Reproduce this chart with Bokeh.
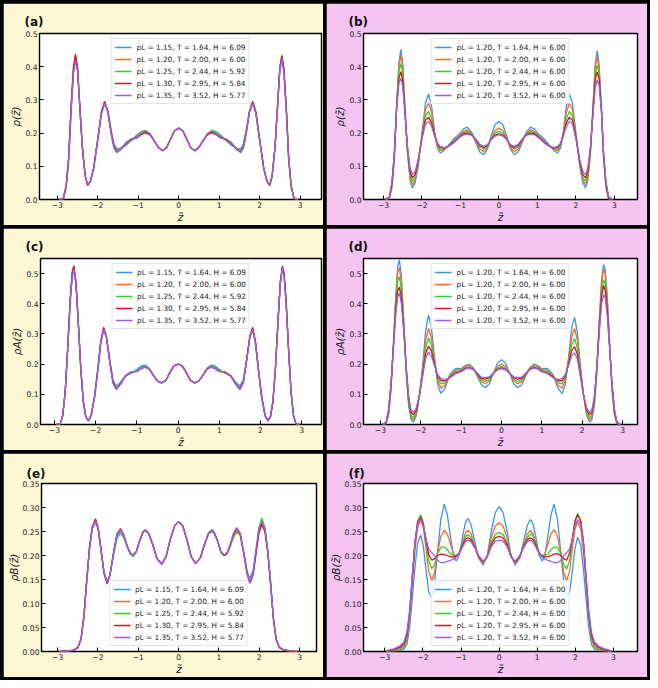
from bokeh.plotting import figure
from bokeh.models import Range1d, FixedTicker, PrintfTickFormatter
from bokeh.layouts import row, column
from bokeh.embed import file_html
from bokeh.resources import INLINE

# ---------------- data ----------------
z_ab = [-2.95, -2.85, -2.78, -2.72, -2.66, -2.6, -2.55, -2.5, -2.44, -2.38, -2.31, -2.25, -2.18, -2.1, -2.0, -1.91, -1.83, -1.75, -1.67, -1.6, -1.53, -1.43, -1.3, -1.17, -1.03, -0.92, -0.82, -0.71, -0.6, -0.5, -0.4, -0.3, -0.2, -0.1, 0.0, 0.1, 0.2, 0.3, 0.4, 0.5, 0.6, 0.71, 0.82, 0.92, 1.03, 1.17, 1.3, 1.43, 1.53, 1.6, 1.67, 1.75, 1.83, 1.91, 2.0, 2.1, 2.18, 2.25, 2.31, 2.38, 2.44, 2.5, 2.55, 2.6, 2.66, 2.72, 2.78, 2.85, 2.95]

a1 = [0.0, 0.002, 0.035, 0.11, 0.26, 0.38, 0.42, 0.39, 0.27, 0.155, 0.07, 0.042, 0.054, 0.094, 0.178, 0.258, 0.29, 0.266, 0.21, 0.168, 0.153, 0.155, 0.163, 0.178, 0.195, 0.205, 0.208, 0.198, 0.177, 0.157, 0.147, 0.156, 0.182, 0.207,
      0.215,
      0.207, 0.182, 0.156, 0.147, 0.157, 0.177, 0.198, 0.208, 0.205, 0.195, 0.178, 0.163, 0.155, 0.153, 0.168, 0.21, 0.266, 0.29, 0.258, 0.178, 0.094, 0.054, 0.042, 0.07, 0.155, 0.27, 0.385, 0.425, 0.385, 0.265, 0.115, 0.036, 0.002, 0.0]
a2 = [0.0, 0.003, 0.04, 0.12, 0.27, 0.39, 0.43, 0.395, 0.27, 0.155, 0.07, 0.042, 0.055, 0.095, 0.18, 0.26, 0.293, 0.266, 0.206, 0.163, 0.148, 0.154, 0.168, 0.178, 0.19, 0.201, 0.206, 0.197, 0.176, 0.157, 0.147, 0.156, 0.182, 0.207,
      0.215,
      0.207, 0.182, 0.156, 0.147, 0.157, 0.176, 0.197, 0.206, 0.201, 0.19, 0.178, 0.168, 0.154, 0.148, 0.163, 0.206, 0.266, 0.293, 0.26, 0.18, 0.095, 0.055, 0.042, 0.07, 0.155, 0.27, 0.395, 0.43, 0.39, 0.27, 0.12, 0.04, 0.003, 0.0]
a3 = [0.0, 0.004, 0.042, 0.125, 0.275, 0.395, 0.432, 0.397, 0.272, 0.156, 0.07, 0.043, 0.056, 0.096, 0.182, 0.262, 0.294, 0.266, 0.205, 0.162, 0.147, 0.155, 0.168, 0.179, 0.189, 0.2, 0.206, 0.197, 0.176, 0.157, 0.147, 0.156, 0.182, 0.207,
      0.215,
      0.207, 0.182, 0.156, 0.147, 0.157, 0.176, 0.197, 0.207, 0.201, 0.19, 0.179, 0.168, 0.155, 0.147, 0.162, 0.205, 0.266, 0.294, 0.262, 0.182, 0.096, 0.056, 0.043, 0.071, 0.157, 0.278, 0.4, 0.436, 0.398, 0.278, 0.125, 0.042, 0.004, 0.0]
a4 = [0.0, 0.004, 0.043, 0.127, 0.28, 0.4, 0.438, 0.4, 0.275, 0.157, 0.071, 0.043, 0.056, 0.097, 0.183, 0.263, 0.295, 0.264, 0.2, 0.158, 0.143, 0.15, 0.17, 0.182, 0.186, 0.197, 0.203, 0.196, 0.176, 0.157, 0.147, 0.156, 0.182, 0.207,
      0.215,
      0.207, 0.182, 0.156, 0.147, 0.157, 0.176, 0.196, 0.203, 0.197, 0.186, 0.182, 0.17, 0.15, 0.143, 0.158, 0.2, 0.264, 0.295, 0.263, 0.183, 0.097, 0.056, 0.043, 0.071, 0.157, 0.276, 0.396, 0.432, 0.396, 0.276, 0.125, 0.043, 0.004, 0.0]
a5 = [0.0, 0.004, 0.04, 0.12, 0.265, 0.382, 0.42, 0.388, 0.27, 0.157, 0.072, 0.044, 0.056, 0.096, 0.18, 0.258, 0.29, 0.263, 0.198, 0.155, 0.141, 0.152, 0.172, 0.183, 0.185, 0.195, 0.2, 0.194, 0.176, 0.157, 0.147, 0.156, 0.182, 0.207,
      0.215,
      0.207, 0.182, 0.156, 0.147, 0.157, 0.176, 0.194, 0.2, 0.195, 0.185, 0.183, 0.172, 0.152, 0.141, 0.155, 0.198, 0.263, 0.29, 0.258, 0.18, 0.096, 0.056, 0.044, 0.072, 0.157, 0.27, 0.39, 0.425, 0.385, 0.268, 0.12, 0.04, 0.004, 0.0]

b1 = [0.0, 0.002, 0.035, 0.12, 0.28, 0.41, 0.452, 0.41, 0.27, 0.145, 0.058, 0.035, 0.05, 0.1, 0.2, 0.29, 0.318, 0.28, 0.2, 0.155, 0.14, 0.147, 0.165, 0.183, 0.197, 0.213, 0.218, 0.203, 0.17, 0.143, 0.135, 0.152, 0.192, 0.226,
      0.235,
      0.226, 0.192, 0.152, 0.135, 0.143, 0.17, 0.203, 0.218, 0.213, 0.197, 0.183, 0.165, 0.147, 0.14, 0.155, 0.2, 0.28, 0.318, 0.29, 0.2, 0.1, 0.05, 0.035, 0.058, 0.145, 0.27, 0.405, 0.448, 0.41, 0.28, 0.12, 0.035, 0.002, 0.0]
b2 = [0.0, 0.003, 0.04, 0.125, 0.28, 0.4, 0.435, 0.4, 0.27, 0.15, 0.065, 0.045, 0.058, 0.105, 0.195, 0.272, 0.29, 0.262, 0.2, 0.16, 0.147, 0.15, 0.163, 0.178, 0.192, 0.205, 0.21, 0.199, 0.175, 0.152, 0.145, 0.156, 0.185, 0.208,
      0.215,
      0.208, 0.185, 0.156, 0.145, 0.152, 0.175, 0.199, 0.21, 0.205, 0.192, 0.178, 0.163, 0.15, 0.147, 0.16, 0.2, 0.262, 0.29, 0.272, 0.195, 0.105, 0.058, 0.045, 0.065, 0.15, 0.27, 0.395, 0.43, 0.398, 0.28, 0.125, 0.04, 0.003, 0.0]
b3 = [0.0, 0.004, 0.045, 0.13, 0.28, 0.385, 0.41, 0.38, 0.265, 0.155, 0.075, 0.055, 0.066, 0.11, 0.19, 0.253, 0.265, 0.243, 0.195, 0.165, 0.152, 0.153, 0.162, 0.175, 0.19, 0.201, 0.205, 0.197, 0.178, 0.158, 0.152, 0.16, 0.182, 0.2,
      0.205,
      0.2, 0.182, 0.16, 0.152, 0.158, 0.178, 0.197, 0.205, 0.201, 0.19, 0.175, 0.162, 0.153, 0.152, 0.165, 0.195, 0.243, 0.265, 0.253, 0.19, 0.11, 0.066, 0.055, 0.075, 0.155, 0.265, 0.378, 0.405, 0.382, 0.28, 0.13, 0.045, 0.004, 0.0]
b4 = [0.001, 0.006, 0.05, 0.135, 0.275, 0.365, 0.385, 0.358, 0.258, 0.158, 0.085, 0.065, 0.075, 0.115, 0.186, 0.239, 0.248, 0.23, 0.194, 0.168, 0.157, 0.155, 0.161, 0.173, 0.188, 0.198, 0.2, 0.195, 0.18, 0.163, 0.157, 0.163, 0.181, 0.194,
      0.198,
      0.194, 0.181, 0.163, 0.157, 0.163, 0.18, 0.195, 0.2, 0.198, 0.188, 0.173, 0.161, 0.155, 0.157, 0.168, 0.194, 0.23, 0.248, 0.239, 0.186, 0.115, 0.075, 0.065, 0.085, 0.158, 0.258, 0.358, 0.385, 0.365, 0.275, 0.135, 0.05, 0.006, 0.001]
b5 = [0.001, 0.008, 0.055, 0.14, 0.27, 0.35, 0.365, 0.34, 0.252, 0.162, 0.095, 0.075, 0.084, 0.12, 0.183, 0.228, 0.235, 0.22, 0.19, 0.17, 0.16, 0.156, 0.16, 0.171, 0.186, 0.195, 0.197, 0.193, 0.182, 0.166, 0.16, 0.165, 0.18, 0.191,
      0.195,
      0.191, 0.18, 0.165, 0.16, 0.166, 0.182, 0.193, 0.197, 0.195, 0.186, 0.171, 0.16, 0.156, 0.16, 0.17, 0.19, 0.22, 0.235, 0.228, 0.183, 0.12, 0.084, 0.075, 0.095, 0.162, 0.25, 0.335, 0.36, 0.345, 0.27, 0.14, 0.055, 0.008, 0.001]

z_cd = [-2.95, -2.86, -2.8, -2.74, -2.68, -2.62, -2.57, -2.53, -2.48, -2.42, -2.36, -2.3, -2.24, -2.18, -2.11, -2.03, -1.95, -1.88, -1.81, -1.74, -1.66, -1.58, -1.5, -1.4, -1.28, -1.14, -1.0, -0.9, -0.8, -0.7, -0.6, -0.5, -0.4, -0.3, -0.2, -0.1, 0.0, 0.1, 0.2, 0.3, 0.4, 0.5, 0.6, 0.7, 0.8, 0.9, 1.0, 1.14, 1.28, 1.4, 1.5, 1.58, 1.66, 1.74, 1.81, 1.88, 1.95, 2.03, 2.11, 2.18, 2.24, 2.3, 2.36, 2.42, 2.48, 2.53, 2.57, 2.62, 2.68, 2.74, 2.8, 2.86, 2.95]

c1 = [0.0, 0.002, 0.028, 0.105, 0.245, 0.4, 0.49, 0.51, 0.465, 0.33, 0.18, 0.075, 0.026, 0.013, 0.03, 0.088, 0.175, 0.265, 0.312, 0.29, 0.215, 0.148, 0.128, 0.14, 0.16, 0.17, 0.183, 0.194, 0.197, 0.186, 0.163, 0.144, 0.138, 0.146, 0.172, 0.194,
      0.2,
      0.194, 0.172, 0.146, 0.138, 0.144, 0.163, 0.186, 0.197, 0.194, 0.183, 0.17, 0.16, 0.14, 0.128, 0.148, 0.215, 0.29, 0.312, 0.265, 0.175, 0.088, 0.03, 0.013, 0.026, 0.075, 0.18, 0.33, 0.46, 0.515, 0.49, 0.4, 0.245, 0.105, 0.028, 0.002, 0.0]
c2 = [0.0, 0.002, 0.03, 0.11, 0.252, 0.412, 0.503, 0.525, 0.472, 0.332, 0.18, 0.075, 0.025, 0.012, 0.03, 0.09, 0.18, 0.27, 0.318, 0.29, 0.21, 0.14, 0.121, 0.136, 0.16, 0.173, 0.178, 0.19, 0.194, 0.185, 0.163, 0.144, 0.138, 0.146, 0.172, 0.194,
      0.2,
      0.194, 0.172, 0.146, 0.138, 0.144, 0.163, 0.185, 0.194, 0.19, 0.178, 0.173, 0.16, 0.136, 0.121, 0.14, 0.21, 0.29, 0.318, 0.27, 0.18, 0.09, 0.03, 0.012, 0.025, 0.075, 0.18, 0.332, 0.47, 0.52, 0.5, 0.41, 0.25, 0.11, 0.03, 0.002, 0.0]
c3 = [0.0, 0.002, 0.03, 0.11, 0.25, 0.41, 0.5, 0.52, 0.47, 0.33, 0.18, 0.075, 0.025, 0.012, 0.03, 0.09, 0.18, 0.27, 0.317, 0.29, 0.21, 0.14, 0.12, 0.135, 0.16, 0.173, 0.178, 0.19, 0.193, 0.185, 0.163, 0.144, 0.138, 0.146, 0.172, 0.194,
      0.2,
      0.194, 0.172, 0.146, 0.138, 0.144, 0.163, 0.185, 0.193, 0.19, 0.178, 0.173, 0.16, 0.135, 0.12, 0.14, 0.21, 0.29, 0.317, 0.27, 0.18, 0.09, 0.03, 0.012, 0.025, 0.075, 0.18, 0.33, 0.47, 0.52, 0.5, 0.41, 0.25, 0.11, 0.03, 0.002, 0.0]
c4 = [0.0, 0.002, 0.031, 0.112, 0.255, 0.415, 0.505, 0.526, 0.472, 0.332, 0.18, 0.075, 0.025, 0.012, 0.03, 0.092, 0.183, 0.273, 0.322, 0.292, 0.21, 0.138, 0.118, 0.133, 0.161, 0.174, 0.175, 0.185, 0.19, 0.183, 0.163, 0.144, 0.138, 0.146, 0.172, 0.194,
      0.2,
      0.194, 0.172, 0.146, 0.138, 0.144, 0.163, 0.183, 0.19, 0.185, 0.175, 0.174, 0.161, 0.133, 0.118, 0.138, 0.21, 0.292, 0.322, 0.273, 0.183, 0.092, 0.03, 0.012, 0.025, 0.075, 0.18, 0.332, 0.472, 0.525, 0.505, 0.415, 0.255, 0.112, 0.031, 0.002, 0.0]
c5 = [0.0, 0.002, 0.03, 0.108, 0.25, 0.405, 0.495, 0.515, 0.468, 0.332, 0.182, 0.076, 0.026, 0.013, 0.031, 0.09, 0.18, 0.268, 0.315, 0.288, 0.208, 0.136, 0.115, 0.132, 0.162, 0.175, 0.176, 0.186, 0.19, 0.183, 0.163, 0.144, 0.138, 0.146, 0.172, 0.194,
      0.2,
      0.194, 0.172, 0.146, 0.138, 0.144, 0.163, 0.183, 0.19, 0.186, 0.176, 0.175, 0.162, 0.132, 0.115, 0.136, 0.208, 0.288, 0.315, 0.268, 0.18, 0.09, 0.031, 0.013, 0.026, 0.076, 0.182, 0.332, 0.47, 0.52, 0.498, 0.405, 0.25, 0.108, 0.03, 0.002, 0.0]

d1 = [0.0, 0.002, 0.03, 0.11, 0.26, 0.43, 0.525, 0.545, 0.49, 0.34, 0.17, 0.06, 0.016, 0.008, 0.03, 0.1, 0.2, 0.31, 0.363, 0.325, 0.22, 0.13, 0.103, 0.12, 0.165, 0.186, 0.185, 0.195, 0.2, 0.188, 0.16, 0.132, 0.122, 0.135, 0.17, 0.203,
      0.215,
      0.203, 0.17, 0.135, 0.122, 0.132, 0.16, 0.188, 0.2, 0.195, 0.185, 0.186, 0.165, 0.12, 0.103, 0.13, 0.22, 0.322, 0.355, 0.305, 0.2, 0.1, 0.03, 0.008, 0.016, 0.06, 0.17, 0.34, 0.48, 0.53, 0.515, 0.425, 0.26, 0.11, 0.03, 0.002, 0.0]
d2 = [0.0, 0.003, 0.035, 0.12, 0.265, 0.42, 0.505, 0.52, 0.47, 0.33, 0.175, 0.068, 0.023, 0.015, 0.035, 0.1, 0.19, 0.28, 0.318, 0.29, 0.215, 0.145, 0.12, 0.13, 0.162, 0.18, 0.182, 0.191, 0.195, 0.186, 0.163, 0.142, 0.135, 0.144, 0.172, 0.193,
      0.2,
      0.193, 0.172, 0.144, 0.135, 0.142, 0.163, 0.186, 0.195, 0.191, 0.182, 0.18, 0.162, 0.13, 0.12, 0.145, 0.215, 0.29, 0.318, 0.28, 0.19, 0.1, 0.035, 0.015, 0.023, 0.068, 0.175, 0.33, 0.465, 0.515, 0.5, 0.415, 0.265, 0.12, 0.035, 0.003, 0.0]
d3 = [0.0, 0.004, 0.04, 0.125, 0.26, 0.4, 0.475, 0.49, 0.445, 0.32, 0.18, 0.076, 0.03, 0.022, 0.04, 0.1, 0.18, 0.255, 0.287, 0.265, 0.205, 0.153, 0.135, 0.138, 0.158, 0.175, 0.179, 0.187, 0.19, 0.184, 0.166, 0.148, 0.143, 0.15, 0.17, 0.187,
      0.193,
      0.187, 0.17, 0.15, 0.143, 0.148, 0.166, 0.184, 0.19, 0.187, 0.179, 0.175, 0.158, 0.138, 0.135, 0.153, 0.205, 0.265, 0.285, 0.253, 0.18, 0.1, 0.04, 0.022, 0.03, 0.076, 0.18, 0.32, 0.44, 0.48, 0.465, 0.395, 0.26, 0.125, 0.04, 0.004, 0.0]
d4 = [0.001, 0.006, 0.045, 0.13, 0.255, 0.38, 0.445, 0.455, 0.42, 0.31, 0.185, 0.085, 0.04, 0.032, 0.048, 0.1, 0.17, 0.235, 0.26, 0.245, 0.2, 0.16, 0.145, 0.145, 0.157, 0.17, 0.176, 0.185, 0.188, 0.183, 0.168, 0.153, 0.15, 0.155, 0.17, 0.183,
      0.188,
      0.183, 0.17, 0.155, 0.15, 0.153, 0.168, 0.183, 0.188, 0.185, 0.176, 0.17, 0.157, 0.145, 0.145, 0.16, 0.2, 0.245, 0.258, 0.233, 0.17, 0.1, 0.048, 0.032, 0.04, 0.085, 0.185, 0.31, 0.425, 0.46, 0.445, 0.38, 0.255, 0.13, 0.045, 0.006, 0.001]
d5 = [0.001, 0.008, 0.05, 0.135, 0.25, 0.365, 0.425, 0.435, 0.4, 0.3, 0.187, 0.092, 0.048, 0.04, 0.055, 0.1, 0.163, 0.22, 0.24, 0.228, 0.195, 0.165, 0.152, 0.149, 0.155, 0.168, 0.175, 0.184, 0.187, 0.182, 0.17, 0.157, 0.155, 0.158, 0.17, 0.181,
      0.185,
      0.181, 0.17, 0.158, 0.155, 0.157, 0.17, 0.182, 0.187, 0.184, 0.175, 0.168, 0.155, 0.149, 0.152, 0.165, 0.195, 0.228, 0.238, 0.218, 0.163, 0.1, 0.055, 0.04, 0.048, 0.092, 0.187, 0.3, 0.4, 0.43, 0.42, 0.36, 0.25, 0.135, 0.05, 0.008, 0.001]

z_ef = [-2.95, -2.75, -2.6, -2.5, -2.42, -2.35, -2.28, -2.21, -2.14, -2.06, -1.99, -1.92, -1.85, -1.77, -1.7, -1.62, -1.53, -1.44, -1.36, -1.27, -1.2, -1.13, -1.05, -0.96, -0.88, -0.82, -0.74, -0.64, -0.54, -0.42, -0.31, -0.21, -0.1, 0.0, 0.1, 0.21, 0.31, 0.42, 0.54, 0.64, 0.74, 0.82, 0.88, 0.96, 1.05, 1.13, 1.2, 1.27, 1.36, 1.44, 1.53, 1.62, 1.7, 1.77, 1.85, 1.92, 1.99, 2.06, 2.14, 2.21, 2.28, 2.35, 2.42, 2.5, 2.6, 2.75, 2.95]

e1 = [0.0, 0.001, 0.003, 0.008, 0.025, 0.07, 0.143, 0.212, 0.255, 0.27, 0.253, 0.21, 0.167, 0.145, 0.162, 0.198, 0.235, 0.247, 0.237, 0.217, 0.204, 0.2, 0.208, 0.233, 0.25, 0.254, 0.247, 0.224, 0.195, 0.182, 0.198, 0.232, 0.262,
      0.27,
      0.262, 0.232, 0.198, 0.183, 0.195, 0.224, 0.247, 0.254, 0.25, 0.233, 0.208, 0.2, 0.204, 0.217, 0.24, 0.25, 0.243, 0.205, 0.168, 0.152, 0.17, 0.212, 0.252, 0.27, 0.255, 0.21, 0.143, 0.07, 0.025, 0.009, 0.004, 0.002, 0.0]
e2 = [0.0, 0.001, 0.003, 0.008, 0.026, 0.072, 0.148, 0.218, 0.26, 0.277, 0.257, 0.21, 0.164, 0.142, 0.16, 0.202, 0.243, 0.255, 0.242, 0.219, 0.205, 0.2, 0.208, 0.233, 0.25, 0.254, 0.246, 0.223, 0.195, 0.182, 0.198, 0.232, 0.262,
      0.27,
      0.262, 0.232, 0.198, 0.183, 0.195, 0.223, 0.245, 0.251, 0.247, 0.232, 0.208, 0.2, 0.204, 0.217, 0.238, 0.248, 0.242, 0.203, 0.163, 0.143, 0.163, 0.207, 0.25, 0.268, 0.253, 0.21, 0.144, 0.07, 0.025, 0.008, 0.003, 0.001, 0.0]
e3 = [0.0, 0.001, 0.003, 0.008, 0.025, 0.07, 0.145, 0.215, 0.257, 0.273, 0.254, 0.21, 0.165, 0.143, 0.16, 0.2, 0.24, 0.252, 0.24, 0.217, 0.203, 0.198, 0.206, 0.231, 0.248, 0.252, 0.245, 0.222, 0.194, 0.181, 0.197, 0.232, 0.262,
      0.271,
      0.262, 0.232, 0.198, 0.184, 0.196, 0.223, 0.245, 0.251, 0.247, 0.232, 0.207, 0.199, 0.203, 0.217, 0.24, 0.252, 0.242, 0.202, 0.162, 0.143, 0.165, 0.212, 0.258, 0.278, 0.26, 0.214, 0.146, 0.071, 0.025, 0.008, 0.003, 0.001, 0.0]
e4 = [0.0, 0.001, 0.003, 0.008, 0.026, 0.072, 0.147, 0.217, 0.259, 0.275, 0.254, 0.208, 0.162, 0.141, 0.16, 0.203, 0.245, 0.256, 0.243, 0.219, 0.205, 0.201, 0.208, 0.232, 0.249, 0.252, 0.245, 0.222, 0.194, 0.182, 0.198, 0.232, 0.262,
      0.27,
      0.262, 0.232, 0.198, 0.183, 0.195, 0.222, 0.245, 0.251, 0.247, 0.231, 0.207, 0.2, 0.205, 0.22, 0.244, 0.256, 0.245, 0.202, 0.161, 0.142, 0.16, 0.203, 0.245, 0.265, 0.25, 0.207, 0.142, 0.069, 0.025, 0.008, 0.003, 0.001, 0.0]
e5 = [0.0, 0.001, 0.003, 0.008, 0.025, 0.07, 0.144, 0.214, 0.256, 0.272, 0.254, 0.21, 0.165, 0.143, 0.16, 0.202, 0.243, 0.254, 0.242, 0.219, 0.205, 0.201, 0.208, 0.232, 0.249, 0.252, 0.245, 0.222, 0.194, 0.182, 0.198, 0.232, 0.262,
      0.27,
      0.262, 0.232, 0.198, 0.183, 0.195, 0.222, 0.245, 0.251, 0.247, 0.232, 0.208, 0.201, 0.206, 0.221, 0.246, 0.258, 0.246, 0.204, 0.163, 0.144, 0.164, 0.21, 0.255, 0.272, 0.256, 0.212, 0.145, 0.07, 0.026, 0.009, 0.004, 0.002, 0.0]

f1 = [0.0, 0.001, 0.002, 0.005, 0.015, 0.05, 0.11, 0.175, 0.225, 0.243, 0.22, 0.17, 0.125, 0.112, 0.14, 0.205, 0.275, 0.307, 0.285, 0.235, 0.2, 0.188, 0.2, 0.24, 0.27, 0.277, 0.265, 0.23, 0.195, 0.18, 0.2, 0.25, 0.29,
      0.302,
      0.29, 0.25, 0.2, 0.18, 0.195, 0.23, 0.263, 0.275, 0.268, 0.24, 0.2, 0.188, 0.2, 0.235, 0.285, 0.307, 0.275, 0.205, 0.14, 0.112, 0.125, 0.168, 0.215, 0.238, 0.222, 0.172, 0.11, 0.05, 0.015, 0.005, 0.002, 0.001, 0.0]
f2 = [0.0, 0.002, 0.004, 0.009, 0.025, 0.07, 0.14, 0.21, 0.258, 0.275, 0.258, 0.215, 0.168, 0.147, 0.163, 0.205, 0.24, 0.253, 0.245, 0.222, 0.204, 0.198, 0.203, 0.228, 0.248, 0.253, 0.246, 0.222, 0.195, 0.183, 0.2, 0.237, 0.262,
      0.268,
      0.262, 0.237, 0.2, 0.183, 0.195, 0.222, 0.245, 0.252, 0.247, 0.228, 0.203, 0.198, 0.204, 0.222, 0.245, 0.254, 0.24, 0.205, 0.163, 0.147, 0.168, 0.215, 0.255, 0.27, 0.255, 0.208, 0.14, 0.07, 0.025, 0.009, 0.004, 0.002, 0.0]
f3 = [0.0, 0.003, 0.006, 0.012, 0.03, 0.075, 0.15, 0.225, 0.27, 0.285, 0.268, 0.23, 0.19, 0.172, 0.18, 0.203, 0.217, 0.218, 0.212, 0.203, 0.2, 0.2, 0.206, 0.225, 0.24, 0.243, 0.238, 0.219, 0.197, 0.186, 0.2, 0.227, 0.244,
      0.248,
      0.244, 0.227, 0.2, 0.186, 0.197, 0.219, 0.238, 0.245, 0.242, 0.226, 0.206, 0.2, 0.2, 0.203, 0.212, 0.218, 0.217, 0.203, 0.18, 0.172, 0.19, 0.232, 0.272, 0.288, 0.272, 0.228, 0.15, 0.075, 0.03, 0.012, 0.006, 0.003, 0.0]
f4 = [0.001, 0.004, 0.009, 0.016, 0.035, 0.08, 0.155, 0.228, 0.27, 0.28, 0.265, 0.232, 0.203, 0.19, 0.193, 0.2, 0.203, 0.202, 0.2, 0.197, 0.197, 0.198, 0.205, 0.222, 0.234, 0.237, 0.233, 0.217, 0.198, 0.187, 0.198, 0.222, 0.237,
      0.24,
      0.237, 0.222, 0.198, 0.186, 0.198, 0.217, 0.233, 0.237, 0.234, 0.222, 0.205, 0.198, 0.197, 0.197, 0.2, 0.203, 0.204, 0.2, 0.193, 0.19, 0.205, 0.236, 0.272, 0.285, 0.272, 0.23, 0.155, 0.08, 0.035, 0.016, 0.009, 0.004, 0.001]
f5 = [0.002, 0.006, 0.012, 0.02, 0.04, 0.085, 0.16, 0.228, 0.265, 0.275, 0.262, 0.235, 0.213, 0.206, 0.2, 0.19, 0.185, 0.185, 0.188, 0.19, 0.193, 0.196, 0.204, 0.218, 0.229, 0.232, 0.229, 0.216, 0.2, 0.188, 0.197, 0.218, 0.23,
      0.232,
      0.23, 0.218, 0.197, 0.188, 0.2, 0.216, 0.229, 0.232, 0.229, 0.218, 0.204, 0.196, 0.193, 0.19, 0.188, 0.185, 0.185, 0.19, 0.2, 0.206, 0.213, 0.235, 0.262, 0.275, 0.265, 0.228, 0.16, 0.085, 0.04, 0.02, 0.012, 0.006, 0.002]

labels_left = ["ρL = 1.15, T = 1.64, H = 6.09",
               "ρL = 1.20, T = 2.00, H = 6.00",
               "ρL = 1.25, T = 2.44, H = 5.92",
               "ρL = 1.30, T = 2.95, H = 5.84",
               "ρL = 1.35, T = 3.52, H = 5.77"]
labels_right = ["ρL = 1.20, T = 1.64, H = 6.00",
                "ρL = 1.20, T = 2.00, H = 6.00",
                "ρL = 1.20, T = 2.44, H = 6.00",
                "ρL = 1.20, T = 2.95, H = 6.00",
                "ρL = 1.20, T = 3.52, H = 6.00"]

x_ticks = [-3, -2, -1, 0, 1, 2, 3]
x_tick_labels = {-3: "−3", -2: "−2", -1: "−1", 0: "0", 1: "1", 2: "2", 3: "3"}
y_ticks_rho = [0.0, 0.1, 0.2, 0.3, 0.4, 0.5]
y_ticks_b = [0.0, 0.05, 0.1, 0.15, 0.2, 0.25, 0.3, 0.35]

# ---------------- style ----------------
COLORS = ["#3a95ee", "#ff6a20", "#2ad42a", "#d81020", "#9d5cf0"]
YELLOW = "#fdf7d4"
PINK = "#f6c4f1"
FONT = "DejaVu Sans"


def panel(tag, z, ys, labels, loc, xr, ytop, yticks, yfmt, ylab, bg,
          w, h, ml, mr, mt, mb, tstand):
    for y in ys:
        assert len(y) == len(z), (tag, len(y), len(z))
    p = figure(width=w, height=h, output_backend="svg", toolbar_location=None,
               x_range=Range1d(xr[0], xr[1]), y_range=Range1d(0, ytop),
               min_border_left=ml, min_border_right=mr,
               min_border_top=mt, min_border_bottom=mb,
               background_fill_color="white", border_fill_color=bg)
    p.title.text = tag
    p.title.align = "left"
    p.title.offset = -15
    p.title.standoff = tstand
    p.title.text_font = FONT
    p.title.text_font_size = "12px"
    p.title.text_font_style = "bold"
    p.title.text_color = "#111111"
    p.grid.visible = False
    p.outline_line_color = "black"
    p.outline_line_width = 1.4
    for ax in (p.xaxis[0], p.yaxis[0]):
        ax.axis_line_color = None
        ax.major_tick_in = 4
        ax.major_tick_out = 0
        ax.major_tick_line_color = "black"
        ax.major_tick_line_width = 1
        ax.minor_tick_line_color = None
        ax.major_label_text_font = FONT
        ax.major_label_text_font_size = "7.6px"
        ax.major_label_text_color = "#1a1a1a"
        ax.major_label_standoff = 2
        ax.axis_label_text_font = FONT
        ax.axis_label_text_font_size = "10.5px"
        ax.axis_label_text_font_style = "italic"
        ax.axis_label_text_color = "#1a1a1a"
        ax.axis_label_standoff = 0
    p.xaxis.ticker = FixedTicker(ticks=x_ticks)
    p.xaxis.major_label_overrides = x_tick_labels
    p.xaxis.axis_label = "z̃"
    p.yaxis.ticker = FixedTicker(ticks=yticks)
    p.yaxis.formatter = PrintfTickFormatter(format=yfmt)
    p.yaxis.axis_label = ylab
    for y, c, lab in zip(ys, COLORS, labels):
        p.line(z, y, line_color=c, line_width=1.3, legend_label=lab)
    lg = p.legend[0]
    lg.location = loc
    lg.label_text_font = FONT
    lg.label_text_font_size = "7.3px"
    lg.label_text_color = "#1a1a1a"
    lg.label_height = 10
    lg.glyph_height = 10
    lg.glyph_width = 17
    lg.label_standoff = 5
    lg.spacing = 2
    lg.padding = 3
    lg.margin = 5
    lg.border_line_color = "#cccccc"
    lg.border_line_width = 1
    lg.background_fill_alpha = 0.85
    return p


pa = panel("(a)", z_ab, [a1, a2, a3, a4, a5], labels_left, "top_center",
           (-3.44, 3.53), 0.5, y_ticks_rho, "%.1f", "ρ(z̃)", YELLOW,
           320, 222, 36, 2, 30, 22, 10)
pb = panel("(b)", z_ab, [b1, b2, b3, b4, b5], labels_right, "top_center",
           (-3.52, 3.60), 0.5, y_ticks_rho, "%.1f", "ρ(z̃)", PINK,
           321, 222, 37, 10, 30, 22, 10)
pc = panel("(c)", z_cd, [c1, c2, c3, c4, c5], labels_left, "top_center",
           (-3.34, 3.48), 0.55, y_ticks_rho, "%.1f", "ρA(z̃)", YELLOW,
           320, 222, 37, 2, 30, 23, 9)
pd = panel("(d)", z_cd, [d1, d2, d3, d4, d5], labels_right, "top_center",
           (-3.42, 3.37), 0.55, y_ticks_rho, "%.1f", "ρA(z̃)", PINK,
           321, 222, 37, 10, 30, 23, 9)
pe = panel("(e)", z_ef, [e1, e2, e3, e4, e5], labels_left, "bottom_center",
           (-3.40, 3.42), 0.35, y_ticks_b, "%.2f", "ρB(z̃)", YELLOW,
           320, 224, 38, 7, 30, 25, 5)
pf = panel("(f)", z_ef, [f1, f2, f3, f4, f5], labels_right, "bottom_center",
           (-3.56, 3.63), 0.35, y_ticks_b, "%.2f", "ρB(z̃)", PINK,
           321, 224, 37, 10, 30, 25, 5)

layout = column(
    row(pa, pb, spacing=3),
    row(pc, pd, spacing=3),
    row(pe, pf, spacing=3),
    spacing=3,
    styles={"background-color": "black", "padding": "3px"},
)

open("out.html", "w").write(file_html(layout, INLINE))
